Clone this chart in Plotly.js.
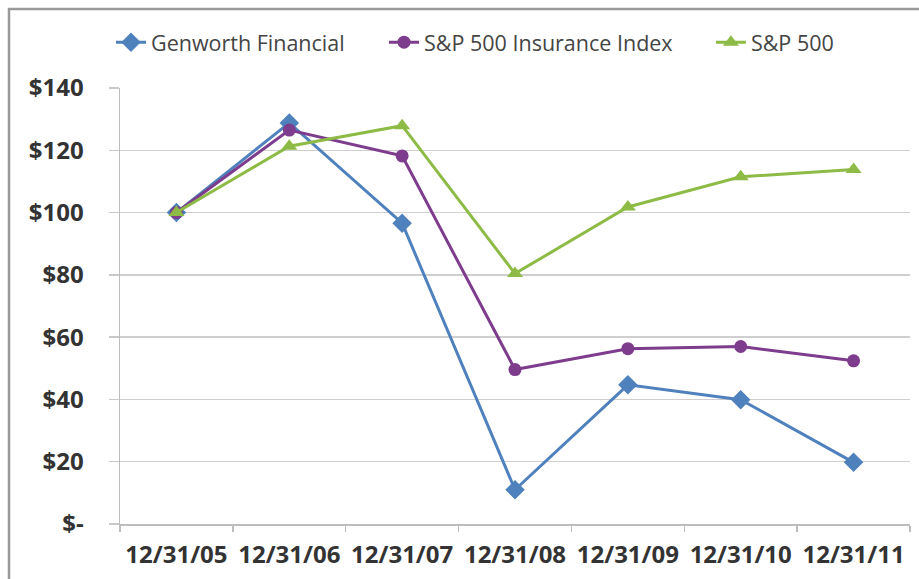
<!DOCTYPE html>
<html>
<head>
<meta charset="utf-8">
<script src="https://cdn.plot.ly/plotly-3.0.1.min.js"></script>
<style>
  html, body { margin: 0; padding: 0; background: #fff; }
  #chart { width: 919px; height: 579px; }
</style>
</head>
<body>
<div id="chart"></div>
<script>
const categories = ["12/31/05", "12/31/06", "12/31/07", "12/31/08", "12/31/09", "12/31/10", "12/31/11"];
const genworth = [100, 128.8, 96.6, 11.0, 44.7, 39.9, 19.8];
const insurance = [100, 126.5, 118.2, 49.6, 56.3, 57.0, 52.4];
const sp500 = [100, 121.3, 127.9, 80.4, 101.8, 111.5, 113.8];
const yTickVals = [0, 20, 40, 60, 80, 100, 120, 140];
const yTickText = ["$-", "$20", "$40", "$60", "$80", "$100", "$120", "$140"];

const traces = [
  {
    x: categories, y: genworth, name: "Genworth Financial",
    type: "scatter", mode: "lines+markers", legend: "legend",
    line: { color: "#4F81BD", width: 3 },
    marker: { symbol: "diamond", size: 15, color: "#4F81BD" }
  },
  {
    x: categories, y: insurance, name: "S&P 500 Insurance Index",
    type: "scatter", mode: "lines+markers", legend: "legend2",
    line: { color: "#7D3C8C", width: 3 },
    marker: { symbol: "circle", size: 13, color: "#7D3C8C" }
  },
  {
    x: categories, y: sp500, name: "S&P 500",
    type: "scatter", mode: "lines+markers", legend: "legend3",
    line: { color: "#8DBB45", width: 3 },
    marker: { symbol: "triangle-up", size: 14, color: "#8DBB45" }
  }
];

const legendFont = { family: "Open Sans, sans-serif", size: 21.5, color: "#444" };
function legendAt(x) {
  return {
    orientation: "h", x: x, xanchor: "left", y: 1.105, yanchor: "middle",
    font: legendFont, itemwidth: 30, bgcolor: "rgba(0,0,0,0)"
  };
}

const layout = {
  width: 919, height: 579,
  margin: { l: 120, r: 9, t: 88, b: 55 },
  paper_bgcolor: "#ffffff", plot_bgcolor: "#ffffff",
  showlegend: true,
  legend: legendAt(-0.0114),
  legend2: legendAt(0.3342),
  legend3: legendAt(0.748),
  xaxis: {
    type: "category",
    range: [-0.5, 6.5],
    tickson: "boundaries",
    ticks: "outside", ticklen: 6, tickcolor: "#bdbdbd", tickwidth: 1.5,
    showline: true, linecolor: "#bdbdbd", linewidth: 2,
    showgrid: false, zeroline: false,
    ticklabelstandoff: 8,
    tickfont: { family: "Open Sans, sans-serif", size: 24, color: "#333", weight: "bold" },
    fixedrange: true
  },
  yaxis: {
    range: [0, 140],
    tickvals: yTickVals, ticktext: yTickText,
    ticks: "outside", ticklen: 10, tickcolor: "#c8c8c8", tickwidth: 1.5,
    showline: true, linecolor: "#bdbdbd", linewidth: 1.5,
    showgrid: true, gridcolor: "#cfcfcf", gridwidth: 1.5,
    zeroline: false,
    ticklabelstandoff: 20,
    tickfont: { family: "Open Sans, sans-serif", size: 24, color: "#333", weight: "bold" },
    fixedrange: true
  },
  shapes: [
    {
      type: "rect", xref: "paper", yref: "paper",
      x0: -0.1405, x1: 1.15, y0: -0.25, y1: 1.1812,
      line: { color: "#9a9a9a", width: 2.5 }, fillcolor: "rgba(0,0,0,0)"
    }
  ]
};

Plotly.newPlot("chart", traces, layout, { displayModeBar: false, staticPlot: true });
</script>
</body>
</html>
